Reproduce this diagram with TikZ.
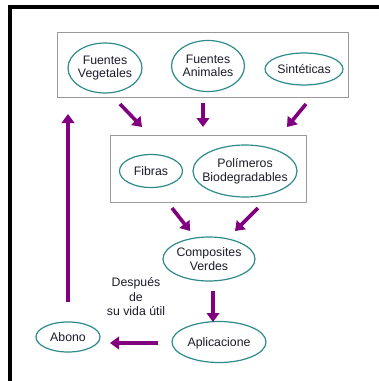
\documentclass[tikz,border=0pt]{standalone}
\usepackage{fontspec}
\setmainfont{Liberation Sans}
\usetikzlibrary{arrows.meta,shapes.geometric}
\definecolor{teal2}{HTML}{2E8B8B}
\definecolor{purp}{HTML}{800080}
\definecolor{txt}{HTML}{1C1C2C}
\definecolor{boxgray}{HTML}{999999}
\tikzset{
  ell/.style={ellipse, inner sep=0pt, text=txt, align=center,
     font=\fontsize{12.3}{13.5}\selectfont},
  ring/.style={draw=teal2, line width=1.2pt},
  grp/.style={draw=boxgray, line width=1pt},
  parrow/.style={draw=purp, line width=3.6pt, -{Triangle[length=9pt,width=12.5pt]}},
  lbl/.style={text=txt, align=center, font=\fontsize{12.3}{14.5}\selectfont}
}
\begin{document}
\begin{tikzpicture}[x=1pt,y=-1pt]
\useasboundingbox (0,0) rectangle (379,381);
\fill[white] (0,0) rectangle (379,381);
% frame
\fill[black] (8,5) rectangle (379,9);
\fill[black] (8,5) rectangle (12,381);
% group boxes
\draw[grp] (57,32) rectangle (348,97);
\draw[grp] (110,135) rectangle (306,202);
% ellipses
\node[ell] (veg) at (105,68) {Fuentes\\Vegetales};
\node[ell] (ani) at (208,66) {Fuentes\\Animales};
\node[ell] (sin) at (304,69) {Sintéticas};
\node[ell] (fib) at (151,171) {Fibras};
\node[ell] (pol) at (245,171) {Polímeros\\Biodegradables};
\node[ell] (com) at (209,259) {Composites\\Verdes};
\node[ell] (apl) at (219,343) {Aplicacione};
\node[ell] (abo) at (68,337) {Abono};
\draw[ring] (veg.center) ellipse [x radius=37pt, y radius=25pt];
\draw[ring] (ani.center) ellipse [x radius=36.5pt, y radius=25.5pt];
\draw[ring] (sin.center) ellipse [x radius=39pt, y radius=16pt];
\draw[ring] (fib.center) ellipse [x radius=31.5pt, y radius=16.5pt];
\draw[ring] (pol.center) ellipse [x radius=52pt, y radius=26pt];
\draw[ring] (com.center) ellipse [x radius=46pt, y radius=22pt];
\draw[ring] (219,342) ellipse [x radius=47pt, y radius=20.5pt];
\draw[ring] (abo.center) ellipse [x radius=32pt, y radius=15pt];
\node[lbl] (desp) at (136,297) {Después\\de\\su vida útil};
% arrow endpoints
\coordinate (a1s) at (120,104); \coordinate (a1e) at (142,127);
\coordinate (a2s) at (203,103); \coordinate (a2e) at (203,127);
\coordinate (a3s) at (306,104); \coordinate (a3e) at (287,127);
\coordinate (b1s) at (172,208); \coordinate (b1e) at (190,231);
\coordinate (b2s) at (258,208); \coordinate (b2e) at (235,231);
\coordinate (c1s) at (213,291); \coordinate (c1e) at (213,322);
\coordinate (d1s) at (158,343); \coordinate (d1e) at (110,343);
\coordinate (e1s) at (68,302); \coordinate (e1e) at (68,114);
\draw[parrow] (a1s) -- (a1e);
\draw[parrow] (a2s) -- (a2e);
\draw[parrow] (a3s) -- (a3e);
\draw[parrow] (b1s) -- (b1e);
\draw[parrow] (b2s) -- (b2e);
\draw[parrow] (c1s) -- (c1e);
\draw[parrow] (d1s) -- (d1e);
\draw[parrow] (e1s) -- (e1e);
\end{tikzpicture}
\end{document}
